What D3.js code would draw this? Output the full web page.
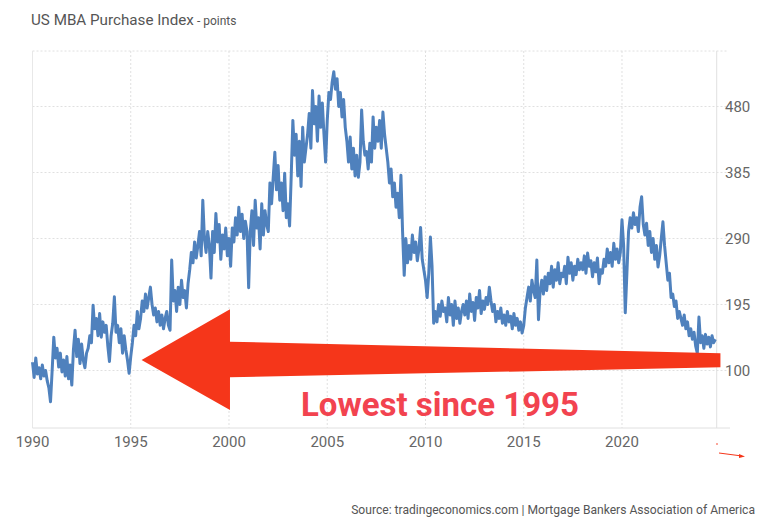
<!DOCTYPE html>
<html>
<head>
<meta charset="utf-8">
<script src="https://cdn.jsdelivr.net/npm/d3@7"></script>
<style>
  html, body { margin: 0; padding: 0; background: #fff; }
  body { width: 768px; height: 525px; overflow: hidden; font-family: Roboto, "Open Sans", sans-serif; }
</style>
</head>
<body>
<div id="chart"></div>
<script>
// monthly readings, one row per year
const startYear = 1990;
const values1990s = [
  112, 90, 118, 95, 104, 88, 108, 92, 100, 85, 75, 55,
  100, 148, 118, 132, 105, 125, 98, 115, 92, 120, 88, 108,
  79, 130, 158, 120, 145, 110, 138, 115, 104, 125, 132, 150,
  140, 194, 160, 175, 150, 182, 148, 170, 155, 165, 135, 113,
  150, 168, 206, 155, 165, 140, 160, 125, 150, 130, 115, 96,
  120, 140, 165, 150, 185, 160, 175, 200, 185, 210, 190, 205,
  220, 195, 180, 190, 170, 185, 165, 180, 160, 175, 185, 165,
  158, 259, 200, 215, 185, 220, 195, 230, 205, 215, 190, 225,
  245, 270, 255, 285, 262, 280, 300, 265, 345, 290, 270, 300,
  280, 233, 300, 270, 326, 285, 310, 260, 295, 275, 305, 265
];
const values2000s = [
  290, 250, 305, 285, 320, 295, 335, 300, 325, 290, 315, 300,
  219, 300, 330, 280, 345, 305, 320, 275, 340, 295, 330, 310,
  300, 370, 340, 378, 414, 360, 395, 345, 370, 330, 384, 320,
  340, 308, 380, 460, 410, 440, 380, 430, 365, 450, 400, 420,
  440, 470, 420, 503, 455, 480, 430, 495, 450, 485, 440, 400,
  460, 500, 490, 515, 530, 505, 520, 480, 500, 465, 490, 450,
  430, 400, 436, 390, 420, 380, 410, 378, 400, 475, 430, 410,
  415, 390, 427, 400, 465, 420, 450, 430, 460, 420, 472, 440,
  420, 400, 370, 390, 350, 370, 335, 355, 320, 381, 300, 237,
  290, 255, 280, 260, 295, 270, 285, 258, 275, 306, 260, 245
];
const values2010s = [
  230, 205, 240, 292, 250, 168, 185, 170, 195, 178, 200, 185,
  190, 170, 205, 180, 195, 165, 200, 175, 190, 168, 185, 195,
  180, 200, 175, 210, 185, 198, 172, 205, 190, 215, 182, 200,
  188, 205, 195, 220, 200, 185, 195, 170, 185, 175, 190, 168,
  180, 165, 185, 170, 178, 160, 182, 165, 175, 158, 170, 154,
  165, 190, 205, 220, 200, 230, 215, 205, 259, 173, 215, 230,
  210, 235, 215, 240, 225, 250, 220, 245, 230, 255, 225, 240,
  235, 250, 225, 263, 240, 255, 230, 250, 238, 260, 245, 255,
  245, 265, 240, 269, 250, 258, 235, 255, 242, 262, 225, 245,
  240, 260, 250, 275, 255, 270, 250, 283, 260, 275, 255, 270
];
const values2020s = [
  317, 280, 183, 240, 300, 320, 305, 327, 310, 320, 300, 335,
  350, 310, 295, 312, 280, 300, 270, 290, 260, 280, 249, 265,
  290, 314, 280, 255, 230, 240, 205, 210, 192, 200, 175, 185,
  175, 165, 180, 160, 170, 150, 160, 145, 155, 135, 125, 177,
  140, 150, 132, 152, 138, 148, 134, 150, 140, 145
];
const xTicks = [1990, 1995, 2000, 2005, 2010, 2015, 2020];
const yTicks = [100, 195, 290, 385, 480];
// annotation arrow outline, in (year, index value) units
const arrowShape = [
  [1995.55, 115.1], [2000.05, 188.1], [2000.05, 141.5], [2025.01, 124.8],
  [2025.01, 104.6], [2000.05, 90.2], [2000.05, 43.1]
];

const series = [].concat(values1990s, values2000s, values2010s, values2020s)
  .map((v, i) => ({ t: startYear + i / 12, v }));

const width = 768, height = 525;
const svg = d3.select('#chart').append('svg')
  .attr('width', width).attr('height', height);

const x = d3.scaleLinear().domain([1990, 2024.82]).range([32.5, 716.7]);
const y = d3.scaleLinear().domain([100, 480]).range([370.5, 106.5]);
const plotTop = 51, plotBottom = 428;

// grid
const grid = svg.append('g');
grid.selectAll('.hg').data(yTicks.concat([y.invert(plotTop)])).join('line')
  .attr('x1', x(1990)).attr('x2', 728)
  .attr('y1', d => y(d)).attr('y2', d => y(d))
  .attr('stroke', '#e0e0e0').attr('stroke-dasharray', '2,2');
grid.selectAll('.vg').data(xTicks.slice(1)).join('line')
  .attr('x1', d => x(d)).attr('x2', d => x(d))
  .attr('y1', plotTop).attr('y2', plotBottom)
  .attr('stroke', '#e0e0e0').attr('stroke-dasharray', '2,2');
grid.append('line').attr('x1', x(1990)).attr('x2', x(1990)).attr('y1', plotTop).attr('y2', plotBottom)
  .attr('stroke', '#e8e8e8');
grid.append('line').attr('x1', x.range()[1]).attr('x2', x.range()[1]).attr('y1', plotTop).attr('y2', plotBottom)
  .attr('stroke', '#e0e0e0');
grid.append('line').attr('x1', x(1990)).attr('x2', 730).attr('y1', plotBottom).attr('y2', plotBottom)
  .attr('stroke', '#e0e0e0');

// axis labels
svg.append('g').selectAll('text').data(yTicks).join('text')
  .attr('x', 725).attr('y', d => y(d)).attr('dy', '0.35em')
  .attr('font-size', 15).attr('fill', '#666').text(d => d);
svg.append('g').selectAll('text').data(xTicks).join('text')
  .attr('x', d => x(d)).attr('y', 447).attr('text-anchor', 'middle')
  .attr('font-size', 15).attr('fill', '#666').text(d => d);

// data line
const line = d3.line().x(d => x(d.t)).y(d => y(d.v));
svg.append('path').datum(series)
  .attr('d', line)
  .attr('fill', 'none')
  .attr('stroke', '#4f81bd')
  .attr('stroke-width', 3)
  .attr('stroke-linejoin', 'round');

// big annotation arrow
svg.append('path')
  .attr('d', d3.line().x(d => x(d[0])).y(d => y(d[1])).curve(d3.curveLinearClosed)(arrowShape))
  .attr('fill', '#f5361a');

svg.append('text')
  .attr('x', 301).attr('y', 416)
  .attr('font-size', 33).attr('font-weight', 'bold')
  .attr('fill', '#f2434f')
  .text('Lowest since 1995');

// tiny stray red mark, bottom right
svg.append('circle').attr('cx', 717).attr('cy', 444).attr('r', 0.8).attr('fill', '#f5361a');
svg.append('line').attr('x1', 719).attr('y1', 453).attr('x2', 742).attr('y2', 456)
  .attr('stroke', '#f5361a').attr('stroke-width', 1);
svg.append('path').attr('d', 'M739,454 L745,456.4 L739,458 Z').attr('fill', '#f5361a');

// title
const title = svg.append('text').attr('x', 31).attr('y', 25).attr('fill', '#555');
title.append('tspan').attr('font-size', 15.2).text('US MBA Purchase Index');
title.append('tspan').attr('font-size', 12).text(' - points');

// source
svg.append('text')
  .attr('x', 755).attr('y', 514).attr('text-anchor', 'end')
  .attr('font-size', 12.1).attr('fill', '#555')
  .text('Source: tradingeconomics.com | Mortgage Bankers Association of America');
</script>
</body>
</html>
